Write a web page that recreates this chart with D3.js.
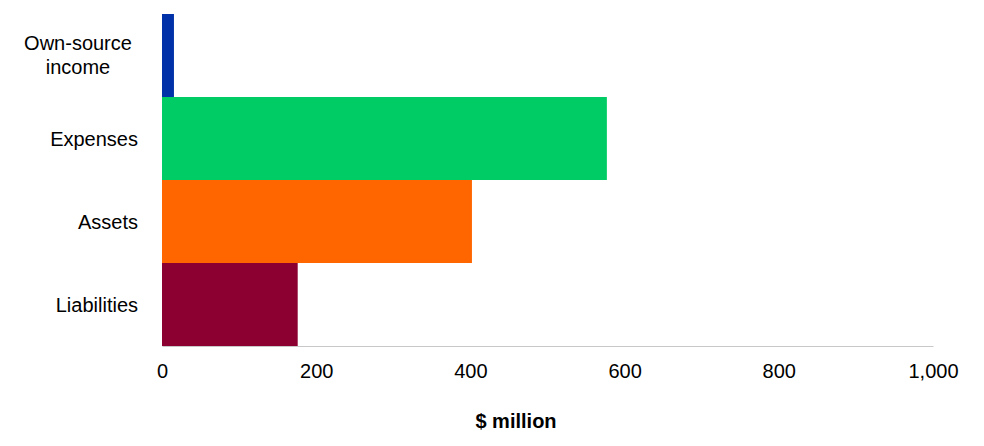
<!DOCTYPE html>
<html>
<head>
<meta charset="utf-8">
<script src="https://cdn.jsdelivr.net/npm/d3@7"></script>
<style>
  body { margin: 0; background: #fff; }
  text { font-family: "Liberation Sans", Arial, sans-serif; fill: #000; }
</style>
</head>
<body>
<script>
// data
const categories = ["Own-source income", "Expenses", "Assets", "Liabilities"];
const values = [15.5, 577, 402, 176];
const colours = ["#0031a9", "#00cc66", "#ff6600", "#8b0030"];
const ticks = [0, 200, 400, 600, 800, 1000];

const W = 984, H = 446;
const margin = {top: 14, right: 51, bottom: 100, left: 162};
const fs = "20px";

let svg = d3.select("body").append("svg").attr("width", W).attr("height", H);

let x = d3.scaleLinear().domain([0, 1000]).range([margin.left, W - margin.right]);
let y = d3.scaleBand().domain(categories).range([margin.top, H - margin.bottom]).padding(0);

// bars
svg.selectAll("rect.bar").data(categories).enter().append("rect")
  .attr("class", "bar")
  .attr("x", x(0))
  .attr("y", d => y(d))
  .attr("width", (d, i) => x(values[i]) - x(0))
  .attr("height", y.bandwidth())
  .attr("fill", (d, i) => colours[i]);

// x axis
let xAxis = svg.append("g").attr("transform", `translate(0,${H - margin.bottom})`)
  .call(d3.axisBottom(x).tickValues(ticks).tickSize(0).tickPadding(18).tickFormat(d3.format(",")));
xAxis.select(".domain").attr("stroke", "#c8c8c8").attr("stroke-width", 1);
xAxis.selectAll("text").style("font-size", fs).style("font-family", "Liberation Sans, Arial, sans-serif").attr("fill", "#000");

// category labels
categories.forEach(c => {
  let words = c === "Own-source income" ? ["Own-source", "income"] : [c];
  let cy = y(c) + y.bandwidth() / 2;
  let t = svg.append("text").style("font-size", fs);
  if (words.length > 1) {
    t.attr("text-anchor", "middle");
    words.forEach((w, i) => {
      t.append("tspan").attr("x", 78).attr("y", cy - 1 + (i - 0.5) * 24).attr("dy", "0.35em").text(w);
    });
  } else {
    t.attr("text-anchor", "end").attr("x", 138).attr("y", cy).attr("dy", "0.35em").text(c);
  }
});

// axis title
svg.append("text").attr("x", 516).attr("y", 428).attr("text-anchor", "middle")
  .style("font-size", fs).style("font-weight", "bold").text("$ million");
</script>
</body>
</html>
